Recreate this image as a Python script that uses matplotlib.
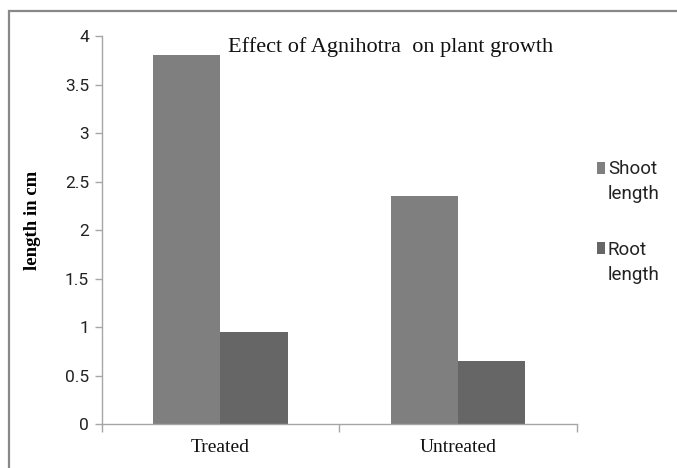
import matplotlib
matplotlib.use('Agg')
import matplotlib.pyplot as plt
import matplotlib.patches as mpatches
from matplotlib.legend_handler import HandlerPatch
import numpy as np

categories = ['Treated', 'Untreated']
shoot_length = [3.8, 2.35]
root_length = [0.95, 0.65]
series_names = ['Shoot\nlength', 'Root\nlength']
y_ticks = [0, 0.5, 1, 1.5, 2, 2.5, 3, 3.5, 4]
y_tick_labels = ['0', '0.5', '1', '1.5', '2', '2.5', '3', '3.5', '4']

shoot_color = '#7f7f7f'
root_color = '#666666'
axis_color = '#a6a6a6'
narrow = ['Roboto', 'DejaVu Sans']
serif = ['Liberation Serif', 'DejaVu Serif']


def square_top(legend, orig_handle, xdescent, ydescent, width, height, fontsize):
    # square sits on the first line of the two-line label
    sq = 0.62 * fontsize
    return mpatches.Rectangle((-xdescent, -ydescent + 0.8 * fontsize), width, sq)


def first_bar(handle, orig_handle):
    handle.update_from(orig_handle.patches[0])


def plot_chart():
    fig = plt.figure(figsize=(6.77, 4.68), dpi=100)
    ax = fig.add_axes([0.150, 0.094, 0.702, 0.829])

    x = np.arange(len(categories))
    w = 0.284
    b1 = ax.bar(x - w / 2, shoot_length, w, color=shoot_color, label=series_names[0])
    b2 = ax.bar(x + w / 2, root_length, w, color=root_color, label=series_names[1])

    ax.set_xlim(-0.5, 1.5)
    ax.set_ylim(0, 4)
    ax.set_yticks(y_ticks)
    ax.set_yticklabels(y_tick_labels, family=narrow, fontsize=12.5, color='#222222')
    ax.set_xticks(x)
    ax.set_xticklabels(categories, family=serif, fontsize=14, color='#111111')
    ax.set_xticks([-0.5, 0.5, 1.5], minor=True)
    ax.tick_params(axis='x', which='major', length=0, pad=11)
    ax.tick_params(axis='x', which='minor', length=6, width=1, color=axis_color)
    ax.tick_params(axis='y', length=5, width=1, color=axis_color, pad=4)

    for s in ['top', 'right']:
        ax.spines[s].set_visible(False)
    for s in ['left', 'bottom']:
        ax.spines[s].set_color(axis_color)
        ax.spines[s].set_linewidth(1)

    ax.set_ylabel('length in cm', family=serif, fontweight='bold', fontsize=13.5)
    ax.yaxis.set_label_coords(-0.128, 0.526)

    fig.text(0.577, 0.90, 'Effect of Agnihotra  on plant growth', family=serif,
             fontsize=16, ha='center', va='center', color='#111111')

    leg = ax.legend(handles=[b1, b2], loc='upper left', bbox_to_anchor=(0.857, 0.694),
                    bbox_transform=fig.transFigure, frameon=False,
                    prop={'family': narrow, 'size': 13.5}, handlelength=0.43,
                    handletextpad=0.15, labelspacing=2.0,
                    handler_map={type(b1): HandlerPatch(patch_func=square_top,
                                                        update_func=first_bar)})
    for t in leg.get_texts():
        t.set_color('#222222')
        t.set_linespacing(1.5)

    # outer chart border
    fig.patches.append(mpatches.Rectangle((8.5 / 677, -0.05), 1.1, 1 - 10.5 / 468 + 0.05,
                                          transform=fig.transFigure, fill=False,
                                          edgecolor='#888888', linewidth=1.6))

    plt.savefig('out.png', dpi=100)


if __name__ == '__main__':
    plot_chart()
